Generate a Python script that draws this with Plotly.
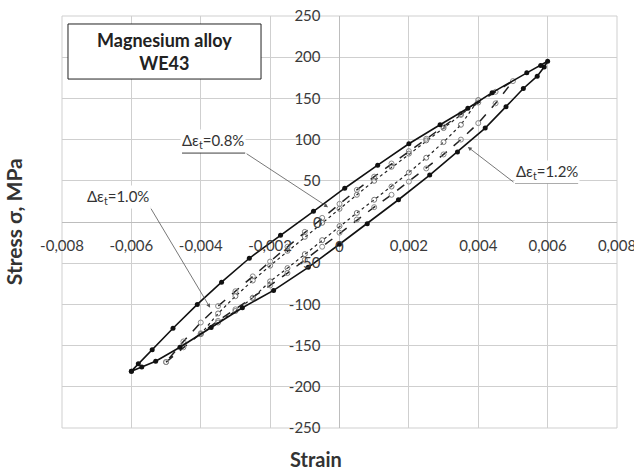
import plotly.graph_objects as go

# ---------------- data ----------------
# Δε_t = 1.2 % loop (lower/loading branch then upper/unloading branch)
strain_12 = [-0.006, -0.0057, -0.0053, -0.0046, -0.0037, -0.0028, -0.0019, -0.0009, 0.0,
             0.0008, 0.0017, 0.0026, 0.0034, 0.0042, 0.0048, 0.0053, 0.0057, 0.0059, 0.006,
             0.0058, 0.0054, 0.0044, 0.0037, 0.0029, 0.002, 0.0011, 0.00015, -0.00075,
             -0.0017, -0.0026, -0.0034, -0.0041, -0.0048, -0.0054, -0.0058, -0.006]
stress_12 = [-181, -176, -169, -152, -128, -104, -83, -55, -27,
             -2, 27, 57, 85, 114, 140, 162, 177, 188, 195,
             190, 181, 157, 138, 118, 95, 69, 41, 13,
             -16, -44, -73, -100, -129, -155, -172, -181]

# Δε_t = 1.0 % loop
strain_10 = [-0.005, -0.0045, -0.004, -0.0035, -0.003, -0.0025, -0.002, -0.0015, -0.001, -0.0005,
             0.0, 0.0005, 0.001, 0.0015, 0.002, 0.0025, 0.003, 0.0035, 0.004, 0.0045, 0.005,
             0.0045, 0.004, 0.0035, 0.003, 0.0025, 0.002, 0.0015, 0.001, 0.0005, 0.0,
             -0.0005, -0.001, -0.0015, -0.002, -0.0025, -0.003, -0.0035, -0.004, -0.0045, -0.005]
stress_10 = [-170, -152, -135, -120, -106, -92, -77, -62, -46, -30,
             -13, 3, 18, 33, 49, 65, 82, 100, 120, 144, 171,
             158, 145, 131, 116, 101, 86, 71, 55, 39, 22,
             5, -12, -30, -48, -66, -84, -102, -122, -145, -170]

# Δε_t = 0.8 % loop
strain_08 = [-0.004, -0.0035, -0.003, -0.0025, -0.002, -0.0015, -0.001, -0.0005, 0.0,
             0.0005, 0.001, 0.0015, 0.002, 0.0025, 0.003, 0.0035, 0.004,
             0.0035, 0.003, 0.0025, 0.002, 0.0015, 0.001, 0.0005, 0.0,
             -0.0005, -0.001, -0.0015, -0.002, -0.0025, -0.003, -0.0035, -0.004]
stress_08 = [-136, -122, -108, -92, -72, -56, -39, -22, -5,
             11, 27, 43, 60, 78, 97, 118, 148,
             130, 114, 99, 83, 67, 50, 33, 16,
             -1, -18, -35, -53, -71, -90, -111, -136]

x_ticks = [-0.008, -0.006, -0.004, -0.002, 0.0, 0.002, 0.004, 0.006, 0.008]
x_labels = ["-0,008", "-0,006", "-0,004", "-0,002", "", "0,002", "0,004", "0,006", "0,008"]
y_ticks = [-250, -200, -150, -100, -50, 0, 50, 100, 150, 200, 250]
y_labels = ["-250", "-200", "-150", "-100", "-50", "", "50", "100", "150", "200", "250"]
zero_label = "0"

title_text = "<b>Magnesium alloy<br>WE43</b>"
x_title = "<b>Strain</b>"
y_title = "<b>Stress σ, MPa</b>"
label_08 = "Δε<sub>t</sub>=0.8%"
label_10 = "Δε<sub>t</sub>=1.0%"
label_12 = "Δε<sub>t</sub>=1.2%"

# ---------------- figure ----------------
FONT = "Lato, 'Open Sans', sans-serif"
TICK_FONT = dict(family=FONT, size=15, color="#3a3a3a")
fig = go.Figure()

fig.add_trace(go.Scatter(
    x=strain_08, y=stress_08, mode="lines+markers",
    line=dict(color="#222", width=1.2, dash="dot"),
    marker=dict(symbol="circle-open", size=5, color="#777", line=dict(width=1, color="#777")),
))
fig.add_trace(go.Scatter(
    x=strain_10, y=stress_10, mode="lines+markers",
    line=dict(color="#222", width=1.5, dash="dash"),
    marker=dict(symbol="circle-open", size=5, color="#888", line=dict(width=1, color="#888")),
))
fig.add_trace(go.Scatter(
    x=strain_12, y=stress_12, mode="lines+markers",
    line=dict(color="#111", width=1.6),
    marker=dict(symbol="circle", size=5, color="#111"),
))

grid_c = "#cfcfcf"
fig.update_xaxes(
    range=[-0.008, 0.008], tickvals=x_ticks, ticktext=x_labels,
    showgrid=True, gridcolor=grid_c, gridwidth=1,
    zeroline=True, zerolinecolor="#bdbdbd", zerolinewidth=1,
    showline=False, anchor="free", position=0.5, automargin=False,
    ticks="outside", ticklen=10, tickcolor="rgba(0,0,0,0)",
    tickfont=TICK_FONT, ticklabeloverflow="allow",
)
fig.update_yaxes(
    range=[-250, 250], tickvals=y_ticks, ticktext=y_labels,
    showgrid=True, gridcolor=grid_c, gridwidth=1,
    zeroline=True, zerolinecolor="#bdbdbd", zerolinewidth=1,
    showline=False, anchor="free", position=0.5, automargin=False,
    ticks="outside", ticklen=16, tickcolor="rgba(0,0,0,0)",
    tickfont=TICK_FONT, ticklabeloverflow="allow",
)

shapes = [
    dict(type="rect", xref="paper", yref="paper", x0=0, y0=0, x1=1, y1=1,
         line=dict(color=grid_c, width=1), layer="below"),
    dict(type="rect", xref="paper", yref="paper", x0=0.0108, x1=0.3586, y0=0.847, y1=0.9806,
         line=dict(color="#222", width=1), fillcolor="white", layer="above"),
    dict(type="line", xref="x", yref="y", x0=-0.00454, x1=-0.00272, y0=84, y1=84,
         line=dict(color="#222", width=1.2)),
    dict(type="line", xref="x", yref="y", x0=-0.00724, x1=-0.00546, y0=18, y1=18,
         line=dict(color="#222", width=1.2)),
    dict(type="line", xref="x", yref="y", x0=0.00506, x1=0.00688, y0=47, y1=47,
         line=dict(color="#222", width=1.2)),
]

annotations = [
    dict(text=title_text, xref="paper", yref="paper", x=0.184, y=0.915,
         showarrow=False, font=dict(family=FONT, size=18, color="#222"),
         xanchor="center", yanchor="middle"),
    dict(text=y_title, xref="paper", yref="paper", x=-0.0883, y=0.502, textangle=-90,
         showarrow=False, font=dict(family=FONT, size=21, color="#333"),
         xanchor="center", yanchor="middle"),
    dict(text=x_title, xref="paper", yref="paper", x=0.4577, y=-0.076,
         showarrow=False, font=dict(family=FONT, size=20, color="#333"),
         xanchor="center", yanchor="middle"),
    # zero tick labels of both axes
    dict(text=zero_label, xref="x", yref="paper", x=0, y=0.5, yshift=-24,
         showarrow=False, font=TICK_FONT, xanchor="center", yanchor="middle"),
    dict(text=zero_label, xref="paper", yref="y", x=0.5, y=0, xshift=-16,
         showarrow=False, font=TICK_FONT, xanchor="right", yanchor="middle"),
    # loop labels
    dict(text=label_08, xref="x", yref="y", x=-0.00366, y=98, showarrow=False,
         bgcolor="white", font=dict(family=FONT, size=15, color="#333")),
    dict(text=label_10, xref="x", yref="y", x=-0.00638, y=30, showarrow=False,
         bgcolor="white", font=dict(family=FONT, size=15, color="#333")),
    dict(text=label_12, xref="x", yref="y", x=0.00598, y=61, showarrow=False,
         bgcolor="white", font=dict(family=FONT, size=15, color="#333")),
    # leader arrows
    dict(text="", xref="x", yref="y", axref="x", ayref="y",
         x=-0.00033, y=18, ax=-0.00272, ay=84, showarrow=True,
         arrowhead=2, arrowsize=1, arrowwidth=0.8, arrowcolor="#555"),
    dict(text="", xref="x", yref="y", axref="x", ayref="y",
         x=-0.00373, y=-104, ax=-0.00546, ay=18, showarrow=True,
         arrowhead=2, arrowsize=1, arrowwidth=0.8, arrowcolor="#555"),
    dict(text="", xref="x", yref="y", axref="x", ayref="y",
         x=0.0037, y=91, ax=0.00506, ay=47, showarrow=True,
         arrowhead=2, arrowsize=1, arrowwidth=0.8, arrowcolor="#555"),
]

fig.update_layout(
    width=634, height=472,
    margin=dict(l=62, r=17, t=16, b=44, autoexpand=False),
    plot_bgcolor="white", paper_bgcolor="white",
    showlegend=False,
    font=dict(family=FONT, size=15, color="#333"),
    shapes=shapes, annotations=annotations,
)

fig.write_html("out.html", config={"displayModeBar": False},
               post_script="document.body.style.margin='0';")
